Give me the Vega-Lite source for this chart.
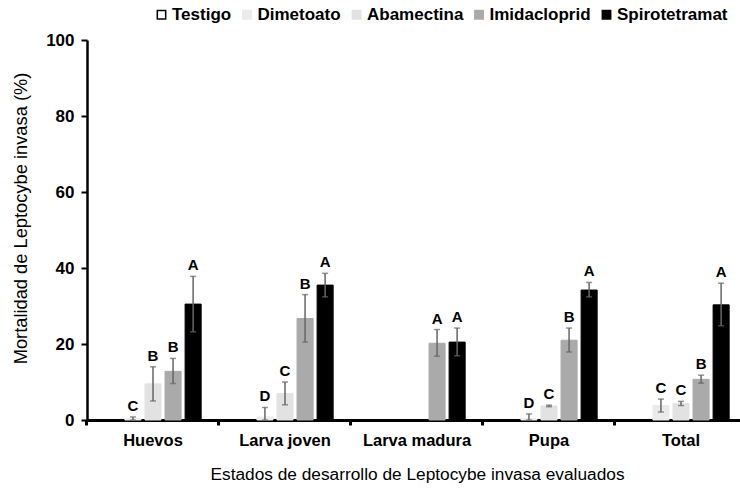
{
  "$schema": "https://vega.github.io/schema/vega-lite/v6.json",
  "autosize": {"type": "none"},
  "width": 650,
  "height": 380,
  "padding": {"left": 87, "top": 40, "right": 3, "bottom": 69},
  "background": "white",
  "config": {
    "font": "Liberation Sans",
    "view": {"stroke": null},
    "axis": {"grid": false, "domainColor": "black", "tickColor": "black", "labelColor": "black", "titleColor": "black", "labelFont": "Liberation Sans", "titleFont": "Liberation Sans", "labelFontWeight": "bold", "titleFontWeight": "normal"}
  },
  "data": {
    "values": [
      {"stage": "Huevos", "ins": "Testigo", "value": 0, "lo": null, "hi": null, "letter": null},
      {"stage": "Huevos", "ins": "Dimetoato", "value": 0.3, "lo": 0, "hi": 0.8, "letter": "C"},
      {"stage": "Huevos", "ins": "Abamectina", "value": 9.5, "lo": 5, "hi": 14, "letter": "B"},
      {"stage": "Huevos", "ins": "Imidacloprid", "value": 12.8, "lo": 9.6, "hi": 16.2, "letter": "B"},
      {"stage": "Huevos", "ins": "Spirotetramat", "value": 30.5, "lo": 23.2, "hi": 37.8, "letter": "A"},
      {"stage": "Larva joven", "ins": "Testigo", "value": 0, "lo": null, "hi": null, "letter": null},
      {"stage": "Larva joven", "ins": "Dimetoato", "value": 0.8, "lo": 0, "hi": 3.3, "letter": "D"},
      {"stage": "Larva joven", "ins": "Abamectina", "value": 7, "lo": 4, "hi": 10, "letter": "C"},
      {"stage": "Larva joven", "ins": "Imidacloprid", "value": 26.7, "lo": 20.5, "hi": 33, "letter": "B"},
      {"stage": "Larva joven", "ins": "Spirotetramat", "value": 35.5, "lo": 32.4, "hi": 38.6, "letter": "A"},
      {"stage": "Larva madura", "ins": "Testigo", "value": 0, "lo": null, "hi": null, "letter": null},
      {"stage": "Larva madura", "ins": "Dimetoato", "value": 0, "lo": null, "hi": null, "letter": null},
      {"stage": "Larva madura", "ins": "Abamectina", "value": 0, "lo": null, "hi": null, "letter": null},
      {"stage": "Larva madura", "ins": "Imidacloprid", "value": 20.2, "lo": 16.8, "hi": 23.8, "letter": "A"},
      {"stage": "Larva madura", "ins": "Spirotetramat", "value": 20.5, "lo": 16.9, "hi": 24.2, "letter": "A"},
      {"stage": "Pupa", "ins": "Testigo", "value": 0, "lo": null, "hi": null, "letter": null},
      {"stage": "Pupa", "ins": "Dimetoato", "value": 0.4, "lo": 0, "hi": 1.6, "letter": "D"},
      {"stage": "Pupa", "ins": "Abamectina", "value": 3.7, "lo": 3.5, "hi": 3.9, "letter": "C"},
      {"stage": "Pupa", "ins": "Imidacloprid", "value": 21, "lo": 17.9, "hi": 24.2, "letter": "B"},
      {"stage": "Pupa", "ins": "Spirotetramat", "value": 34.2, "lo": 32.4, "hi": 36.2, "letter": "A"},
      {"stage": "Total", "ins": "Testigo", "value": 0, "lo": null, "hi": null, "letter": null},
      {"stage": "Total", "ins": "Dimetoato", "value": 3.8, "lo": 2.1, "hi": 5.5, "letter": "C"},
      {"stage": "Total", "ins": "Abamectina", "value": 4.3, "lo": 3.8, "hi": 4.9, "letter": "C"},
      {"stage": "Total", "ins": "Imidacloprid", "value": 10.7, "lo": 9.7, "hi": 11.8, "letter": "B"},
      {"stage": "Total", "ins": "Spirotetramat", "value": 30.3, "lo": 24.8, "hi": 36, "letter": "A"}
    ]
  },
  "encoding": {
    "x": {
      "field": "stage", "type": "nominal", "sort": null,
      "scale": {"paddingInner": 0.24, "paddingOuter": 0.12, "range": [0, 660]},
      "axis": {"title": "Estados de desarrollo de Leptocybe invasa evaluados", "labelAngle": 0, "labelFontSize": 16.5, "titleFontSize": 17.3, "tickSize": 5, "tickWidth": 3, "bandPosition": -0.158, "domainWidth": 3, "labelPadding": 7, "titlePadding": 17}
    },
    "xOffset": {"field": "ins", "type": "nominal", "scale": {"domain": ["Testigo", "Dimetoato", "Abamectina", "Imidacloprid", "Spirotetramat"], "paddingInner": 0.2, "paddingOuter": 0.1}}
  },
  "layer": [
    {
      "transform": [{"filter": "datum.value > 0"}],
      "mark": {"type": "bar", "strokeWidth": 1},
      "encoding": {
        "y": {"field": "value", "type": "quantitative", "scale": {"domain": [0, 100]},
          "axis": {"title": "Mortalidad de Leptocybe invasa (%)", "values": [0, 20, 40, 60, 80, 100], "labelFontSize": 17, "titleFontSize": 18.3, "tickSize": 6, "tickWidth": 2, "domainWidth": 2.5, "labelPadding": 7, "titlePadding": 15, "titleY": 178}},
        "fill": {"field": "ins", "type": "nominal",
          "scale": {"domain": ["Testigo", "Dimetoato", "Abamectina", "Imidacloprid", "Spirotetramat"], "range": ["#ffffff", "#ebebeb", "#e2e2e2", "#aaaaaa", "#000000"]},
          "legend": {"title": null, "orient": "none", "legendX": 66, "legendY": -34, "direction": "horizontal", "symbolType": "square", "symbolSize": 70, "labelFontSize": 17, "labelFontWeight": "bold", "labelColor": "black", "columnPadding": 6.5, "labelOffset": 2}},
        "stroke": {"field": "ins", "type": "nominal",
          "scale": {"domain": ["Testigo", "Dimetoato", "Abamectina", "Imidacloprid", "Spirotetramat"], "range": ["#000000", "#ebebeb", "#e2e2e2", "#aaaaaa", "#000000"]}}
      }
    },
    {
      "transform": [{"filter": "isValid(datum.hi)"}],
      "mark": {"type": "rule", "color": "#666666", "strokeWidth": 1.5},
      "encoding": {"y": {"field": "lo", "type": "quantitative"}, "y2": {"field": "hi"}}
    },
    {
      "transform": [{"filter": "isValid(datum.hi)"}],
      "mark": {"type": "tick", "orient": "horizontal", "color": "#666666", "size": 6, "thickness": 1.5},
      "encoding": {"y": {"field": "hi", "type": "quantitative"}}
    },
    {
      "transform": [{"filter": "isValid(datum.lo)"}],
      "mark": {"type": "tick", "orient": "horizontal", "color": "#666666", "size": 6, "thickness": 1.5},
      "encoding": {"y": {"field": "lo", "type": "quantitative"}}
    },
    {
      "transform": [{"filter": "isValid(datum.letter)"}],
      "mark": {"type": "text", "baseline": "bottom", "dy": -3, "fontSize": 15, "fontWeight": "bold", "color": "black", "font": "Liberation Sans"},
      "encoding": {"y": {"field": "hi", "type": "quantitative"}, "text": {"field": "letter"}}
    }
  ]
}
